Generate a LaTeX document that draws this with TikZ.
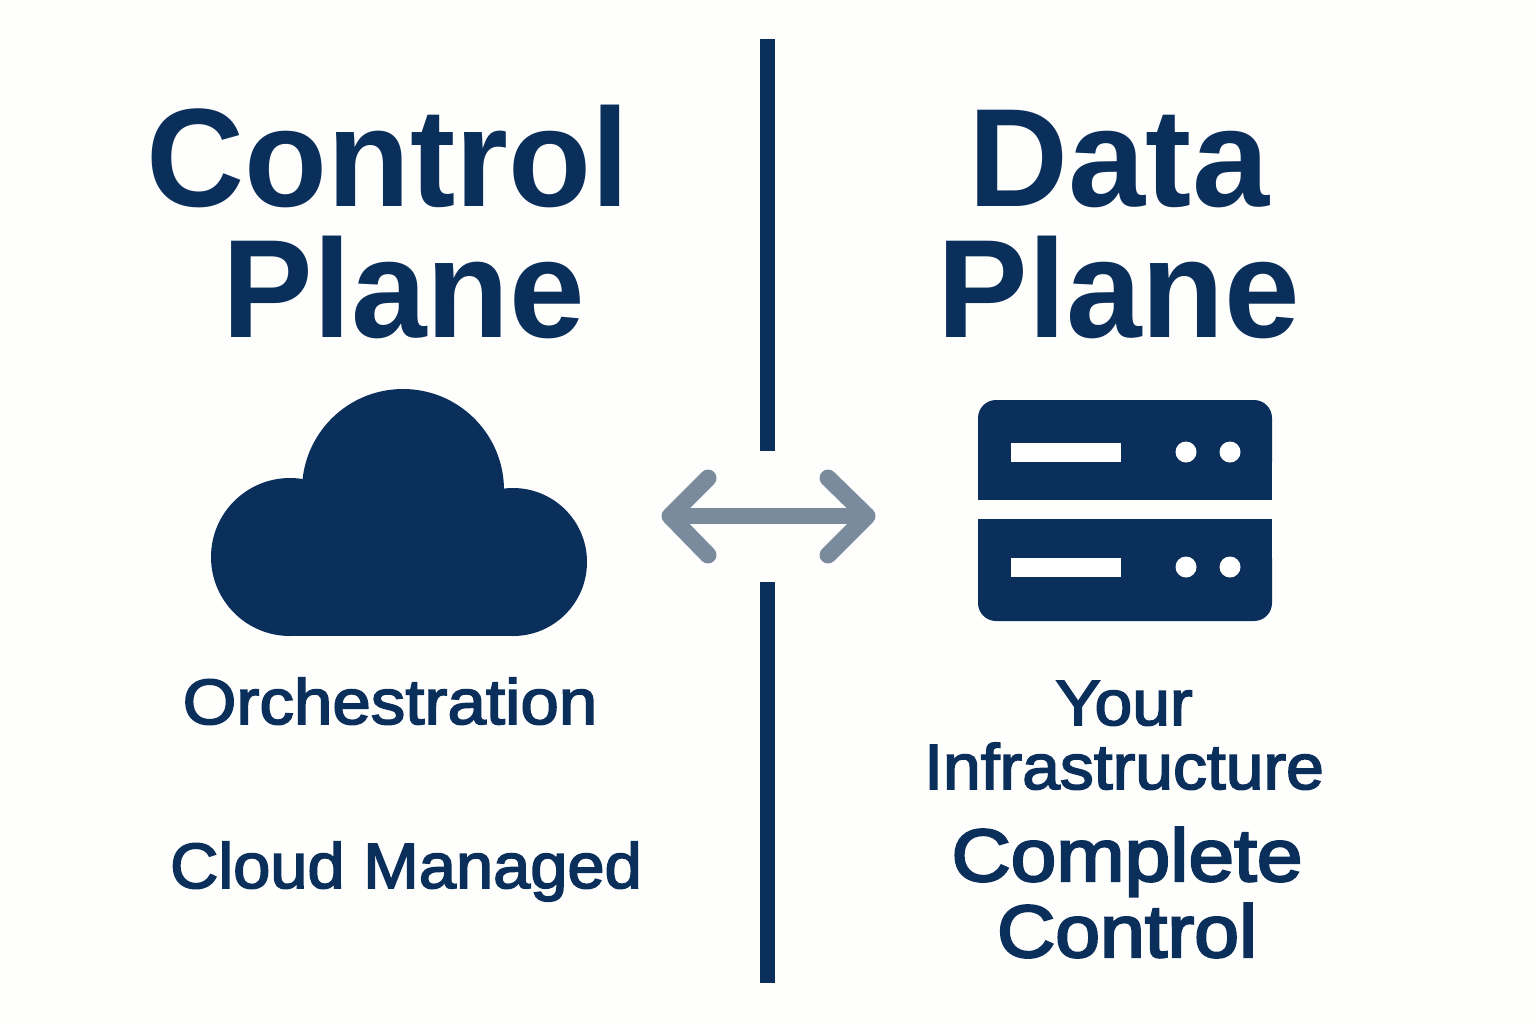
\documentclass[tikz,border=0pt]{standalone}
\usepackage{fontspec}
\setmainfont{Liberation Sans}
\newfontfamily\titlefont[FakeStretch=0.97]{Liberation Sans}
\newfontfamily\medfont[FakeBold=2.6,FakeStretch=1.06]{Liberation Sans}
\newfontfamily\medbigfont[FakeBold=3.2,FakeStretch=1.09]{Liberation Sans}
\definecolor{navy}{HTML}{0B2F5B}
\definecolor{slate}{HTML}{7A8B9E}
\definecolor{paper}{HTML}{FEFEFD}
\tikzset{
  title/.style={text=navy,inner sep=0pt,anchor=base,font=\fontsize{70}{70}\titlefont\bfseries},
  sub/.style={text=navy,inner sep=0pt,anchor=base,font=\fontsize{32}{32}\medfont},
  subbig/.style={text=navy,inner sep=0pt,anchor=base,font=\fontsize{37}{37}\medbigfont},
  divider/.style={fill=navy},
  arrowline/.style={draw=slate,line cap=round,line join=round},
}
\begin{document}
\begin{tikzpicture}[x=0.5pt,y=-0.5pt]
\useasboundingbox (0,0) rectangle (1536,1024);
\fill[paper] (0,0) rectangle (1536,1024);
% titles
\node[title] (ctl) at (388,206) {Control};
\node[title] (cpl) at (404,337) {Plane};
\node[title,xscale=1.02,transform shape] (dat) at (1119,206) {Data};
\node[title] (dpl) at (1119,337) {Plane};
% dividers
\fill[divider] (760,39) rectangle (775,451);
\fill[divider] (760,582) rectangle (775,983);
% arrow
\coordinate (al) at (670,516);
\coordinate (ar) at (867,516);
\draw[arrowline,line width=8pt] (al) -- (ar);
\draw[arrowline,line width=8.5pt] (708,478) -- (al) -- (708,555);
\draw[arrowline,line width=8.5pt] (828,478) -- (ar) -- (828,555);
% cloud
\fill[navy] (403,490) circle[radius=101];
\fill[navy] (290,557) circle[radius=79];
\fill[navy] (513,562) circle[radius=74];
\fill[navy] (290,500) rectangle (513,636);
% server
\fill[navy,rounded corners=9pt] (978,400) rectangle (1272,480);
\fill[navy] (978,450) rectangle (1272,500);
\fill[navy,rounded corners=9pt] (978,540) rectangle (1272,621);
\fill[navy] (978,519) rectangle (1272,570);
\fill[white] (1011,443) rectangle (1121,462);
\fill[white] (1186,452) circle[radius=10.5] (1230,452) circle[radius=10.5];
\fill[white] (1011,558) rectangle (1121,577);
\fill[white] (1186,567) circle[radius=10.5] (1230,567) circle[radius=10.5];
% labels
\node[sub,xscale=1.018,transform shape] (orc) at (390,724) {Orchestration};
\node[sub,xscale=0.985,transform shape] (cld) at (406,888) {Cloud Managed};
\node[sub] (you) at (1124,725) {Your};
\node[sub] (inf) at (1124,789) {Infrastructure};
\node[subbig,xscale=1.017,transform shape] (com) at (1127,881) {Complete};
\node[subbig] (con) at (1127,957) {Control};
\end{tikzpicture}
\end{document}
